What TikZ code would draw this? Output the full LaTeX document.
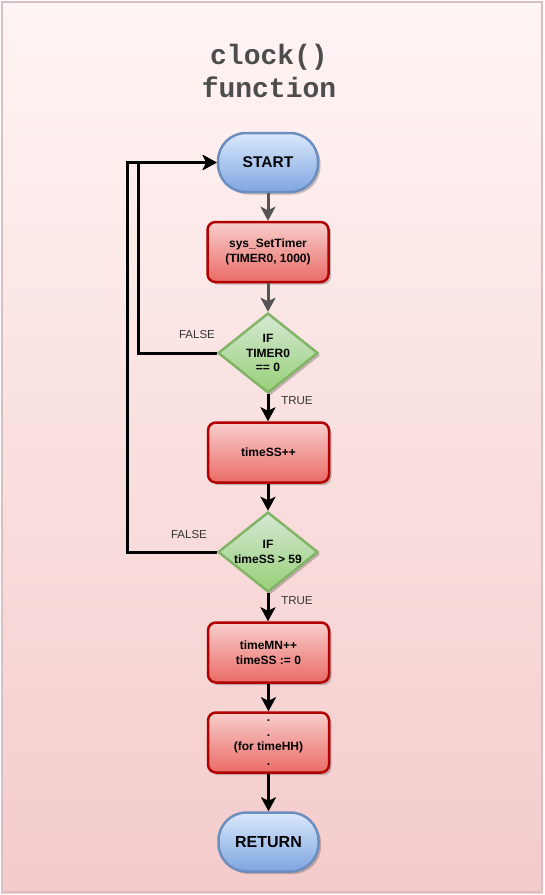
\documentclass[tikz,border=0pt]{standalone}
\usepackage{fontspec}
\setmainfont{Liberation Sans}
\newfontfamily\titlefont{Liberation Mono}
\usetikzlibrary{shapes.geometric,arrows.meta,shadows}
\definecolor{bgtop}{HTML}{FFF5F4}
\definecolor{bgbot}{HTML}{F4CBCB}
\definecolor{frame}{HTML}{D9BEC2}
\definecolor{bluetop}{HTML}{DAE8FC}
\definecolor{bluebot}{HTML}{7EA6E0}
\definecolor{blueline}{HTML}{6C8EBF}
\definecolor{redtop}{HTML}{F8CECC}
\definecolor{redbot}{HTML}{EA6B66}
\definecolor{redline}{HTML}{B20000}
\definecolor{greentop}{HTML}{D5E8D4}
\definecolor{greenbot}{HTML}{97D077}
\definecolor{greenline}{HTML}{82B366}
\definecolor{arrgray}{HTML}{555555}
\definecolor{titlegray}{HTML}{4D4D4D}
\definecolor{labelgray}{HTML}{333333}
\tikzset{
  shad/.style={drop shadow={shadow xshift=2.5pt,shadow yshift=-2.5pt,opacity=0.22,fill=black}},
  term/.style={shad,draw=blueline,line width=2.5pt,rounded corners=28pt,
    top color=bluetop,bottom color=bluebot,minimum width=100pt,minimum height=59pt,
    inner sep=0pt,font=\bfseries},
  procbox/.style={shad,draw=redline,line width=2.5pt,rounded corners=8pt,
    top color=redtop,bottom color=redbot,minimum width=121pt,minimum height=60pt,
    inner sep=0pt,align=center,font=\bfseries\fontsize{12}{14.5}\selectfont},
  decbox/.style={shad,diamond,aspect=1.25,draw=greenline,line width=2.5pt,
    top color=greentop,bottom color=greenbot,minimum width=100pt,minimum height=80pt,
    inner sep=-5pt,align=center,font=\fontsize{12}{14.5}\selectfont},
  lbl/.style={text=labelgray,font=\fontsize{11.5}{13}\selectfont,inner sep=0pt},
  arrg/.style={draw=arrgray,line width=3pt,-{Stealth[length=14pt,width=15pt,inset=3.5pt]}},
  arrb/.style={draw=black,line width=3pt,-{Stealth[length=14pt,width=15pt,inset=3.5pt]}},
}
\begin{document}
\begin{tikzpicture}[x=1pt,y=-1pt]
\useasboundingbox (0,0) rectangle (545,895);
\fill[top color=bgtop,bottom color=bgbot] (1,1) rectangle (543,893);
\draw[frame,line width=2.5pt] (2,2) rectangle (542,892);
\node[align=center,text=titlegray,font=\titlefont\bfseries\fontsize{28}{33}\selectfont] (title) at (269,71) {clock()\\function};
\node[term,font=\bfseries\fontsize{15.5}{17}\selectfont] (start) at (268,162.5) {START};
\node[procbox] (sys) at (268,252) {sys\_SetTimer\\(TIMER0, 1000)};
\node[decbox] (d1) at (268,353) {\bfseries IF\\\bfseries TIMER0\\\bfseries == 0};
\node[procbox] (inc) at (268.5,452.5) {timeSS++};
\node[decbox] (d2) at (268,552) {\bfseries IF\\\bfseries timeSS > 59};
\node[procbox] (mn) at (268.5,652.5) {timeMN++\\timeSS := 0};
\node[procbox] (hh) at (268.5,742.5) {.\\.\\(for timeHH)\\.};
\node[term,font=\bfseries\fontsize{16}{18}\selectfont] (ret) at (268.5,842) {RETURN};
\node[lbl] (f1) at (197,335) {FALSE};
\node[lbl] (t1) at (297,401) {TRUE};
\node[lbl] (f2) at (189,535) {FALSE};
\node[lbl] (t2) at (297,601) {TRUE};
\draw[arrg] (start) -- (start |- sys.north);
\draw[arrg] (sys) -- (sys |- d1.north);
\draw[arrb] (d1) -- (d1 |- inc.north);
\draw[arrb] (d2 |- inc.south) -- (d2);
\draw[arrb] (d2) -- (d2 |- mn.north);
\draw[arrb] (mn) -- (hh);
\draw[arrb] (hh) -- (ret);
\draw[arrb] (d1.west) -- ++(-78,0) |- (start.west);
\draw[arrb] (d2.west) -- ++(-89,0) |- (start.west);
\end{tikzpicture}
\end{document}
